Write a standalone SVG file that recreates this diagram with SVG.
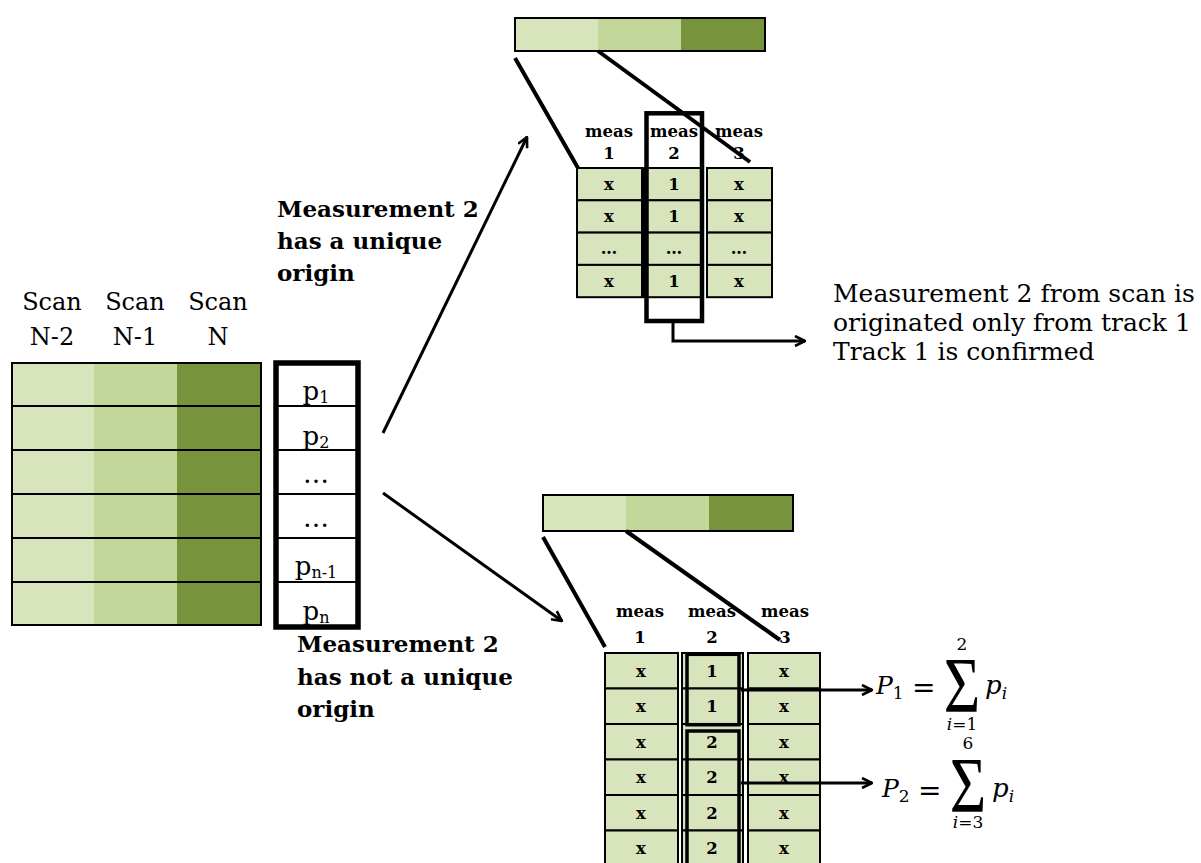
<svg xmlns="http://www.w3.org/2000/svg" width="1201" height="863" viewBox="0 0 1201 863">
<defs>
<marker id="ah" viewBox="0 0 12 12" refX="11" refY="6" markerWidth="12" markerHeight="12" markerUnits="userSpaceOnUse" orient="auto">
<path d="M1,1 L11,6 L1,11" fill="none" stroke="#000" stroke-width="2.6"/>
</marker>
<style>
.c1{fill:#d8e4bc}.c2{fill:#c4d79b}.c3{fill:#77933c}
.grid{fill:none;stroke:#000;stroke-width:2}
.thick{fill:none;stroke:#000}
.cell{fill:#d8e4bc;stroke:#000;stroke-width:2}
.scan{font-family:"DejaVu Serif",serif;font-size:24px;fill:#000;text-anchor:middle}
.lbl{font-family:"DejaVu Serif",serif;font-size:23px;font-weight:bold;fill:#000}
.ct{font-family:"DejaVu Serif",serif;font-size:16.5px;font-weight:bold;fill:#000;text-anchor:middle}
.note{font-family:"DejaVu Serif",serif;font-size:25px;fill:#000}
.pt{font-family:"DejaVu Serif",serif;font-size:26px;fill:#000;text-anchor:middle}
.m{font-family:"DejaVu Serif",serif;font-style:italic;fill:#000}
.mr{font-family:"DejaVu Serif",serif;fill:#000}
.sig{font-family:"Liberation Serif",serif;fill:#000;text-anchor:middle}
.ln{stroke:#000;stroke-width:4;fill:none}
.ar{stroke:#000;stroke-width:3;fill:none;marker-end:url(#ah)}
</style>
</defs>
<rect width="1201" height="863" fill="#fff"/>

<g id="scan-table">
<text class="scan" x="52" y="310">Scan</text><text class="scan" x="52" y="345">N-2</text>
<text class="scan" x="135" y="310">Scan</text><text class="scan" x="135" y="345">N-1</text>
<text class="scan" x="218" y="310">Scan</text><text class="scan" x="218" y="345">N</text>
<rect class="c1" x="12" y="363" width="82" height="262"/>
<rect class="c2" x="94" y="363" width="83" height="262"/>
<rect class="c3" x="177" y="363" width="84" height="262"/>
<rect class="grid" x="12" y="363" width="249" height="262"/>
<path class="grid" d="M12,406H261M12,450H261M12,494H261M12,538H261M12,582H261"/>
</g>

<g id="p-column">
<rect x="276" y="363" width="82" height="264" fill="#fff"/>
<path class="grid" d="M276,406H358M276,450H358M276,494H358M276,538H358M276,582H358"/>
<rect class="thick" x="276" y="363" width="82" height="264" stroke-width="5.5"/>
<text class="pt" x="316" y="400">p<tspan font-size="16" dy="3">1</tspan></text>
<text class="pt" x="316" y="445">p<tspan font-size="16" dy="3">2</tspan></text>
<text class="pt" x="316" y="483">…</text>
<text class="pt" x="316" y="527">…</text>
<text class="pt" x="316" y="575">p<tspan font-size="16" dy="3">n-1</tspan></text>
<text class="pt" x="316" y="620">p<tspan font-size="16" dy="3">n</tspan></text>
</g>

<g id="label-unique">
<text class="lbl" x="277" y="217">Measurement 2</text>
<text class="lbl" x="277" y="249">has a unique</text>
<text class="lbl" x="277" y="281">origin</text>
</g>

<g id="label-not-unique">
<text class="lbl" x="297" y="652">Measurement 2</text>
<text class="lbl" x="297" y="685">has not a unique</text>
<text class="lbl" x="297" y="717">origin</text>
</g>

<g id="top-bar">
<rect class="c1" x="515" y="18" width="83" height="33"/>
<rect class="c2" x="598" y="18" width="83" height="33"/>
<rect class="c3" x="681" y="18" width="84" height="33"/>
<rect class="grid" x="515" y="18" width="250" height="33"/>
</g>

<g id="top-table">
<text class="ct" x="609" y="137">meas</text><text class="ct" x="609" y="159">1</text>
<text class="ct" x="674" y="137">meas</text><text class="ct" x="674" y="159">2</text>
<text class="ct" x="739" y="137">meas</text><text class="ct" x="739" y="159">3</text>
<rect class="cell" x="577" y="168" width="65" height="32.3"/>
<rect class="cell" x="577" y="200.3" width="65" height="32.3"/>
<rect class="cell" x="577" y="232.6" width="65" height="32.3"/>
<rect class="cell" x="577" y="264.9" width="65" height="32.3"/>
<rect class="cell" x="644" y="168" width="59" height="32.3"/>
<rect class="cell" x="644" y="200.3" width="59" height="32.3"/>
<rect class="cell" x="644" y="232.6" width="59" height="32.3"/>
<rect class="cell" x="644" y="264.9" width="59" height="32.3"/>
<rect class="cell" x="707" y="168" width="65" height="32.3"/>
<rect class="cell" x="707" y="200.3" width="65" height="32.3"/>
<rect class="cell" x="707" y="232.6" width="65" height="32.3"/>
<rect class="cell" x="707" y="264.9" width="65" height="32.3"/>
<text class="ct" x="609" y="190">x</text><text class="ct" x="674" y="190">1</text><text class="ct" x="739" y="190">x</text>
<text class="ct" x="609" y="222">x</text><text class="ct" x="674" y="222">1</text><text class="ct" x="739" y="222">x</text>
<text class="ct" x="609" y="254">…</text><text class="ct" x="674" y="254">…</text><text class="ct" x="739" y="254">…</text>
<text class="ct" x="609" y="287">x</text><text class="ct" x="674" y="287">1</text><text class="ct" x="739" y="287">x</text>
<rect class="thick" x="646.5" y="113.3" width="55.5" height="207.7" stroke-width="4.5"/>
</g>

<g id="note-confirmed">
<text class="note" x="833" y="302">Measurement 2 from scan is</text>
<text class="note" x="833" y="331">originated only from track 1</text>
<text class="note" x="833" y="360">Track 1 is confirmed</text>
</g>

<g id="bottom-bar">
<rect class="c1" x="543" y="495" width="83" height="36"/>
<rect class="c2" x="626" y="495" width="83" height="36"/>
<rect class="c3" x="709" y="495" width="84" height="36"/>
<rect class="grid" x="543" y="495" width="250" height="36"/>
</g>

<g id="bottom-table">
<text class="ct" x="640" y="617">meas</text><text class="ct" x="640" y="643">1</text>
<text class="ct" x="712" y="617">meas</text><text class="ct" x="712" y="643">2</text>
<text class="ct" x="785" y="617">meas</text><text class="ct" x="785" y="643">3</text>
<rect class="cell" x="605" y="653" width="73" height="35.5"/>
<rect class="cell" x="605" y="688.5" width="73" height="35.5"/>
<rect class="cell" x="605" y="724" width="73" height="35.5"/>
<rect class="cell" x="605" y="759.5" width="73" height="35.5"/>
<rect class="cell" x="605" y="795" width="73" height="35.5"/>
<rect class="cell" x="605" y="830.5" width="73" height="35.5"/>
<rect class="cell" x="682" y="653" width="61" height="35.5"/>
<rect class="cell" x="682" y="688.5" width="61" height="35.5"/>
<rect class="cell" x="682" y="724" width="61" height="35.5"/>
<rect class="cell" x="682" y="759.5" width="61" height="35.5"/>
<rect class="cell" x="682" y="795" width="61" height="35.5"/>
<rect class="cell" x="682" y="830.5" width="61" height="35.5"/>
<rect class="cell" x="748" y="653" width="72" height="35.5"/>
<rect class="cell" x="748" y="688.5" width="72" height="35.5"/>
<rect class="cell" x="748" y="724" width="72" height="35.5"/>
<rect class="cell" x="748" y="759.5" width="72" height="35.5"/>
<rect class="cell" x="748" y="795" width="72" height="35.5"/>
<rect class="cell" x="748" y="830.5" width="72" height="35.5"/>
<text class="ct" x="641" y="677">x</text><text class="ct" x="712" y="677">1</text><text class="ct" x="784" y="677">x</text>
<text class="ct" x="641" y="712">x</text><text class="ct" x="712" y="712">1</text><text class="ct" x="784" y="712">x</text>
<text class="ct" x="641" y="748">x</text><text class="ct" x="712" y="748">2</text><text class="ct" x="784" y="748">x</text>
<text class="ct" x="641" y="783">x</text><text class="ct" x="712" y="783">2</text><text class="ct" x="784" y="783">x</text>
<text class="ct" x="641" y="819">x</text><text class="ct" x="712" y="819">2</text><text class="ct" x="784" y="819">x</text>
<text class="ct" x="641" y="854">x</text><text class="ct" x="712" y="854">2</text><text class="ct" x="784" y="854">x</text>
<rect class="thick" x="687" y="654.3" width="52" height="70.4" stroke-width="3.5"/>
<rect class="thick" x="687" y="731" width="52" height="140" stroke-width="3.5"/>
</g>

<g id="formula-1">
<text class="m" x="876" y="694" font-size="25">P<tspan class="mr" font-style="normal" font-size="17" dy="5">1</tspan></text>
<text class="mr" x="912" y="697" font-size="28">=</text>
<text class="mr" x="962" y="650" font-size="17" text-anchor="middle">2</text>
<text class="sig" transform="translate(962,711) scale(1.1,1.38)" font-size="57">Σ</text>
<text class="m" x="962" y="730" font-size="17" text-anchor="middle">i<tspan font-style="normal">=1</tspan></text>
<text class="m" x="985" y="694" font-size="26">p<tspan font-size="17" dy="5">i</tspan></text>
</g>

<g id="formula-2">
<text class="m" x="882" y="797" font-size="25">P<tspan class="mr" font-style="normal" font-size="17" dy="5">2</tspan></text>
<text class="mr" x="918" y="800" font-size="28">=</text>
<text class="mr" x="968" y="749" font-size="17" text-anchor="middle">6</text>
<text class="sig" transform="translate(968,811) scale(1.1,1.38)" font-size="57">Σ</text>
<text class="m" x="968" y="828" font-size="17" text-anchor="middle">i<tspan font-style="normal">=3</tspan></text>
<text class="m" x="992" y="797" font-size="26">p<tspan font-size="17" dy="5">i</tspan></text>
</g>

<g id="connectors">
<line class="ar" x1="383" y1="433" x2="527" y2="137"/>
<line class="ar" x1="383" y1="493" x2="562" y2="621"/>
<line class="ln" x1="515" y1="58" x2="578" y2="168"/>
<line class="ln" x1="598" y1="51" x2="750" y2="162"/>
<line class="ln" x1="543" y1="537" x2="605" y2="647"/>
<line class="ln" x1="626" y1="531" x2="780" y2="640"/>
<polyline class="ar" points="673,322 673,341 805,341"/>
<line class="ar" x1="741" y1="690" x2="872" y2="690"/>
<line class="ar" x1="741" y1="783" x2="872" y2="783"/>
</g>
</svg>
